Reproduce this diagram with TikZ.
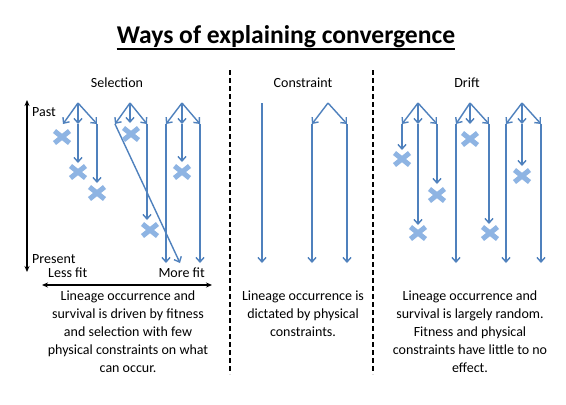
\documentclass[tikz,border=0pt]{standalone}
\usepackage{fontspec}
\setmainfont{Carlito}
\usetikzlibrary{arrows.meta,shapes.misc}
\definecolor{lineblue}{HTML}{4F81BD}
\definecolor{crossblue}{HTML}{8EB4E3}
\tikzset{
  br/.style={draw=lineblue, line width=1.4pt, -{Straight Barb[length=4.5pt,width=8pt,line width=1.4pt]}},
  xmark/.style={cross out, draw=crossblue, line width=5pt, minimum width=10pt, minimum height=7pt, inner sep=0pt},
  axis/.style={draw=black, line width=1.4pt, {Stealth[length=6pt,width=5pt]}-{Stealth[length=6pt,width=5pt]}},
  divider/.style={draw=black, line width=2pt, dash pattern=on 5pt off 3pt},
  head/.style={font=\fontsize{14}{16}\selectfont, inner sep=0pt},
  lbl/.style={font=\fontsize{14}{16}\selectfont, inner sep=0pt},
  para/.style={font=\fontsize{14}{18}\selectfont, align=center, inner sep=0pt, anchor=north}
}
\begin{document}
\begin{tikzpicture}[x=1pt,y=-1pt]
\useasboundingbox[fill=white] (0,0) rectangle (566,405);

% title
\node[font=\fontsize{25.6}{30}\selectfont\bfseries, inner sep=0pt] (title) at (286,37) {Ways of explaining convergence};
\draw[line width=2pt] ([yshift=-5pt]title.base west) -- ([yshift=-5pt]title.base east);

% column headings
\node[head] (hsel) at (117,83) {Selection};
\node[head] (hcon) at (303,83) {Constraint};
\node[head] (hdri) at (467,83) {Drift};

% dividers
\coordinate (d1t) at (230,70); \coordinate (d1b) at (230,374);
\coordinate (d2t) at (373,70); \coordinate (d2b) at (373,374);
\draw[divider] (d1t) -- (d1b);
\draw[divider] (d2t) -- (d2b);

% time and fitness axes
\coordinate (past) at (27,100); \coordinate (present) at (27,272);
\draw[axis] (past) -- (present);
\coordinate (lessfit) at (42,285); \coordinate (morefit) at (212,285);
\draw[axis] (lessfit) -- (morefit);
\node[lbl, anchor=west] (lpast) at (32,112) {Past};
\node[lbl, anchor=west] (lpresent) at (32,259) {Present};
\node[lbl, anchor=west] (lless) at (48,273) {Less fit};
\node[lbl, anchor=east] (lmore) at (205,273) {More fit};

% ---------- Selection ----------
% tree 1
\coordinate (s1) at (78,103);
\coordinate (s1a) at (63,124); \coordinate (s1b) at (78,124); \coordinate (s1c) at (97,124);
\coordinate (s1be) at (78,163); \coordinate (s1ce) at (97,183);
\draw[br] (s1) -- (s1a); \draw[br] (s1) -- (s1b); \draw[br] (s1) -- (s1c);
\draw[br] (s1b) -- (s1be); \draw[br] (s1c) -- (s1ce);
\node[xmark] (xs1) at (62,137) {};
\node[xmark] (xs2) at (78,172) {};
\node[xmark] (xs3) at (97,193) {};
% tree 2
\coordinate (s2) at (130,103);
\coordinate (s2a) at (115,124); \coordinate (s2b) at (130,123); \coordinate (s2c) at (147,124);
\coordinate (s2ae) at (180,263); \coordinate (s2ce) at (147,220);
\draw[br] (s2) -- (s2a); \draw[br] (s2) -- (s2b); \draw[br] (s2) -- (s2c);
\draw[br] (s2a) -- (s2ae); \draw[br] (s2c) -- (s2ce);
\node[xmark] (xs4) at (131,134) {};
\node[xmark] (xs5) at (150,230) {};
% tree 3
\coordinate (s3) at (182,103);
\coordinate (s3a) at (166,124); \coordinate (s3b) at (182,124); \coordinate (s3c) at (200,124);
\coordinate (s3ae) at (166,263); \coordinate (s3be) at (182,162); \coordinate (s3ce) at (200,263);
\draw[br] (s3) -- (s3a); \draw[br] (s3) -- (s3b); \draw[br] (s3) -- (s3c);
\draw[br] (s3a) -- (s3ae); \draw[br] (s3b) -- (s3be); \draw[br] (s3c) -- (s3ce);
\node[xmark] (xs6) at (182,172) {};

% ---------- Constraint ----------
\coordinate (c0) at (262,103); \coordinate (c0e) at (262,263);
\draw[br] (c0) -- (c0e);
\coordinate (c1) at (328,103);
\coordinate (c1a) at (312,124); \coordinate (c1c) at (347,124);
\coordinate (c1ae) at (312,263); \coordinate (c1ce) at (347,263);
\draw[br] (c1) -- (c1a); \draw[br] (c1) -- (c1c);
\draw[br] (c1a) -- (c1ae); \draw[br] (c1c) -- (c1ce);

% ---------- Drift ----------
% tree 1
\coordinate (r1) at (418,103);
\coordinate (r1a) at (402,124); \coordinate (r1b) at (418,124); \coordinate (r1c) at (437,124);
\coordinate (r1ae) at (402,150); \coordinate (r1be) at (418,225); \coordinate (r1ce) at (437,184);
\draw[br] (r1) -- (r1a); \draw[br] (r1) -- (r1b); \draw[br] (r1) -- (r1c);
\draw[br] (r1a) -- (r1ae); \draw[br] (r1b) -- (r1be); \draw[br] (r1c) -- (r1ce);
\node[xmark] (xr1) at (402,159) {};
\node[xmark] (xr2) at (418,233) {};
\node[xmark] (xr3) at (437,195) {};
% tree 2
\coordinate (r2) at (470,103);
\coordinate (r2a) at (456,124); \coordinate (r2b) at (470,124); \coordinate (r2c) at (489,124);
\coordinate (r2ae) at (456,263); \coordinate (r2ce) at (489,224);
\draw[br] (r2) -- (r2a); \draw[br] (r2) -- (r2b); \draw[br] (r2) -- (r2c);
\draw[br] (r2a) -- (r2ae); \draw[br] (r2c) -- (r2ce);
\node[xmark] (xr4) at (470,139) {};
\node[xmark] (xr5) at (490,233) {};
% tree 3
\coordinate (r3) at (522,103);
\coordinate (r3a) at (506,124); \coordinate (r3b) at (522,124); \coordinate (r3c) at (541,124);
\coordinate (r3ae) at (506,263); \coordinate (r3be) at (522,166); \coordinate (r3ce) at (541,263);
\draw[br] (r3) -- (r3a); \draw[br] (r3) -- (r3b); \draw[br] (r3) -- (r3c);
\draw[br] (r3a) -- (r3ae); \draw[br] (r3b) -- (r3be); \draw[br] (r3c) -- (r3ce);
\node[xmark] (xr6) at (522,176) {};

% ---------- descriptions ----------
\node[para] (tsel) at (128,291) {Lineage occurrence and\\survival is driven by fitness\\and selection with few\\physical constraints on what\\can occur.};
\node[para] (tcon) at (303,291) {Lineage occurrence is\\dictated by physical\\constraints.};
\node[para] (tdri) at (470,291) {Lineage occurrence and\\survival is largely random.\\Fitness and physical\\constraints have little to no\\effect.};
\end{tikzpicture}
\end{document}
